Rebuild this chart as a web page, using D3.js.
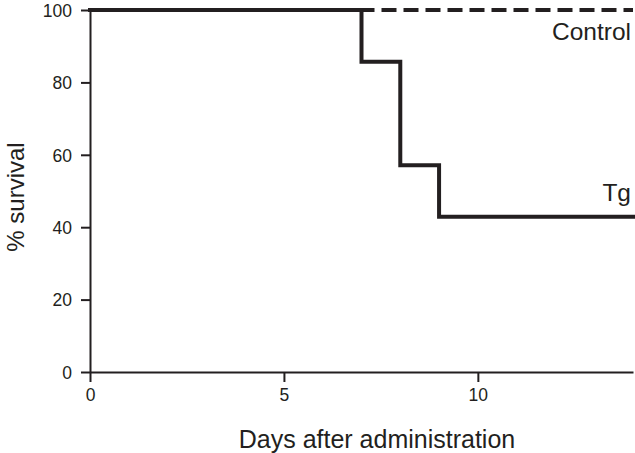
<!DOCTYPE html>
<html><head><meta charset="utf-8">
<script src="https://cdn.jsdelivr.net/npm/d3@7"></script>
<style>body{margin:0;background:#fff}svg{display:block}text{font-family:"Liberation Sans",Arial,sans-serif;fill:#231f20}</style>
</head><body>
<svg id="c" width="635" height="453"></svg>
<script>
const xTicks = [0, 5, 10];
const yTicks = [0, 20, 40, 60, 80, 100];
const tgDays = [0, 7, 8, 9, 14];
const tgSurvival = [100, 85.7, 57.1, 42.9, 42.9];
const controlDays = [0, 14];
const controlSurvival = [100, 100];
const seriesLabels = ["Control", "Tg"];

const svg = d3.select("#c");
const m = {l: 90, r: 633, t: 10, b: 372};
const x = d3.scaleLinear().domain([0, 14]).range([m.l, m.r]);
const y = d3.scaleLinear().domain([0, 100]).range([m.b, m.t]);
const ink = "#231f20";

const xa = svg.append("g").attr("transform", `translate(0,${m.b})`)
  .call(d3.axisBottom(x).tickValues(xTicks).tickSize(10).tickPadding(7).tickSizeOuter(0));
const ya = svg.append("g").attr("transform", `translate(${m.l},0)`)
  .call(d3.axisLeft(y).tickValues(yTicks).tickSize(9).tickPadding(9).tickSizeOuter(0));
[xa, ya].forEach(a => {
  a.select(".domain").attr("stroke", ink).attr("stroke-width", 2);
  a.selectAll(".tick line").attr("stroke", ink).attr("stroke-width", 2);
  a.selectAll(".tick text").attr("font-size", 17.5).attr("fill", ink).style("font-family", "Liberation Sans, Arial, sans-serif");
});
ya.selectAll(".tick text").attr("dy", "0.36em");

const line = d3.line().x(d => x(d[0])).y(d => y(d[1])).curve(d3.curveStepAfter);

svg.append("path").datum(controlDays.map((d, i) => [d, controlSurvival[i]]))
  .attr("d", line).attr("fill", "none").attr("stroke", ink)
  .attr("stroke-width", 4).attr("stroke-dasharray", "15,7")
  .attr("stroke-dashoffset", 22 - ((x(7) + 20 - x(0)) % 22));

svg.append("path").datum(tgDays.map((d, i) => [d, tgSurvival[i]]))
  .attr("d", line).attr("fill", "none").attr("stroke", ink)
  .attr("stroke-width", 4).attr("stroke-linejoin", "miter").attr("stroke-linecap", "square");

svg.append("text").attr("x", 631).attr("y", 39.5).attr("text-anchor", "end")
  .attr("font-size", 24.5).text(seriesLabels[0]);
svg.append("text").attr("x", 631).attr("y", 201).attr("text-anchor", "end")
  .attr("font-size", 24.5).text(seriesLabels[1]);

svg.append("text").attr("x", 377).attr("y", 448).attr("text-anchor", "middle")
  .attr("font-size", 25).text("Days after administration");
svg.append("text").attr("transform", `translate(24,197) rotate(-90)`)
  .attr("text-anchor", "middle").attr("font-size", 24).text("% survival");
</script>
</body></html>
